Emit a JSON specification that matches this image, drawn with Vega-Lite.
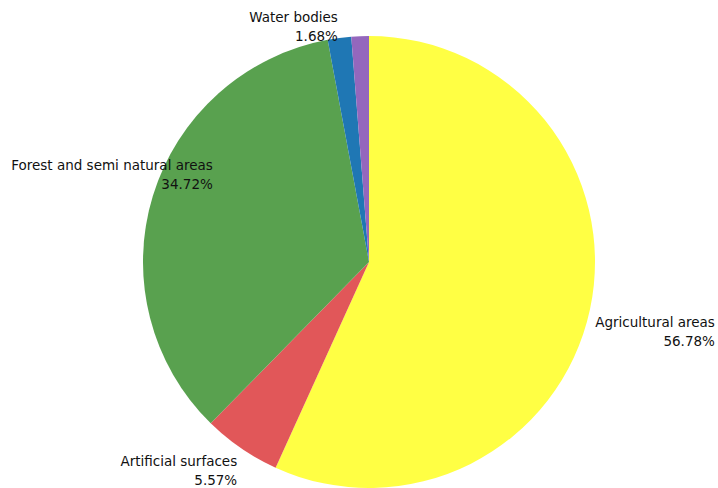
{
  "$schema": "https://vega.github.io/schema/vega-lite/v6.json",
  "width": 698,
  "height": 452,
  "autosize": {"type": "none"},
  "padding": {"left": 20, "top": 36, "right": 0, "bottom": 0},
  "background": "white",
  "config": {"view": {"stroke": null}},
  "data": {
    "values": [
      {"cat": "Agricultural areas", "pct": 56.78},
      {"cat": "Artificial surfaces", "pct": 5.57},
      {"cat": "Forest and semi natural areas", "pct": 34.72},
      {"cat": "Water bodies", "pct": 1.68},
      {"cat": "Wetlands", "pct": 1.25}
    ]
  },
  "transform": [
    {"calculate": "datum.cat + '\\n' + format(datum.pct, '.2f') + '%'", "as": "label"}
  ],
  "layer": [
    {
      "mark": {"type": "arc", "outerRadius": 226},
      "encoding": {
        "theta": {"field": "pct", "type": "quantitative", "stack": true},
        "color": {
          "field": "cat",
          "type": "nominal",
          "legend": null,
          "scale": {
            "domain": ["Agricultural areas", "Artificial surfaces", "Forest and semi natural areas", "Water bodies", "Wetlands"],
            "range": ["#ffff44", "#e15759", "#59a14f", "#1f77b4", "#9467bd"]
          }
        }
      }
    },
    {
      "mark": {"type": "text", "align": "right", "baseline": "alphabetic", "lineBreak": "\n", "lineHeight": 19, "font": "DejaVu Sans", "fontSize": 13.5, "color": "#111111", "dx": 125, "dy": 17.5},
      "encoding": {
        "theta": {"field": "pct", "type": "quantitative", "stack": true},
        "detail": {"field": "cat", "type": "nominal"},
        "radius": {"value": 226},
        "text": {"condition": {"test": "datum.cat === 'Agricultural areas'", "field": "label", "type": "nominal"}, "value": ""}
      }
    },
    {
      "mark": {"type": "text", "align": "right", "baseline": "alphabetic", "lineBreak": "\n", "lineHeight": 19, "font": "DejaVu Sans", "fontSize": 13.5, "color": "#111111", "dx": -4, "dy": 18},
      "encoding": {
        "theta": {"field": "pct", "type": "quantitative", "stack": true},
        "detail": {"field": "cat", "type": "nominal"},
        "radius": {"value": 226},
        "text": {"condition": {"test": "datum.cat === 'Artificial surfaces'", "field": "label", "type": "nominal"}, "value": ""}
      }
    },
    {
      "mark": {"type": "text", "align": "right", "baseline": "alphabetic", "lineBreak": "\n", "lineHeight": 19, "font": "DejaVu Sans", "fontSize": 13.5, "color": "#111111", "dx": 60, "dy": -26},
      "encoding": {
        "theta": {"field": "pct", "type": "quantitative", "stack": true},
        "detail": {"field": "cat", "type": "nominal"},
        "radius": {"value": 226},
        "text": {"condition": {"test": "datum.cat === 'Forest and semi natural areas'", "field": "label", "type": "nominal"}, "value": ""}
      }
    },
    {
      "mark": {"type": "text", "align": "right", "baseline": "alphabetic", "lineBreak": "\n", "lineHeight": 19, "font": "DejaVu Sans", "fontSize": 13.5, "color": "#111111", "dx": -1.5, "dy": -16},
      "encoding": {
        "theta": {"field": "pct", "type": "quantitative", "stack": true},
        "detail": {"field": "cat", "type": "nominal"},
        "radius": {"value": 226},
        "text": {"condition": {"test": "datum.cat === 'Water bodies'", "field": "label", "type": "nominal"}, "value": ""}
      }
    }
  ]
}
